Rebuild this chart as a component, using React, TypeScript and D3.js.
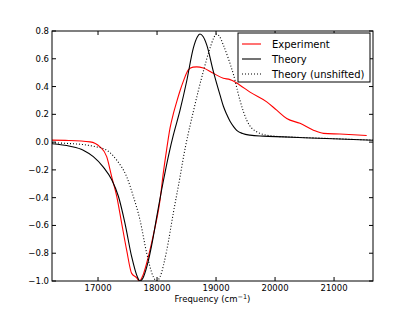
import * as d3 from 'd3'

// Experiment (red)
const expFreq = [16220, 16500, 16864, 17033, 17147, 17232, 17317, 17401, 17486, 17570, 17655, 17700, 17760, 17825, 17937, 18050, 18107, 18164, 18220, 18280, 18333, 18390, 18445, 18530, 18610, 18672, 18785, 18954, 19123, 19237, 19293, 19406, 19576, 19859, 20028, 20198, 20423, 20650, 20820, 21100, 21553]
const expVal = [0.014, 0.012, 0.002, -0.034, -0.105, -0.25, -0.39, -0.585, -0.78, -0.945, -0.977, -1.0, -0.96, -0.87, -0.67, -0.42, -0.22, -0.05, 0.1, 0.21, 0.29, 0.37, 0.437, 0.52, 0.54, 0.542, 0.533, 0.495, 0.46, 0.45, 0.44, 0.41, 0.36, 0.29, 0.23, 0.17, 0.135, 0.086, 0.063, 0.058, 0.048]

// Theory (black, solid)
const theoryFreq = [16220, 16525, 16750, 16920, 17090, 17230, 17345, 17457, 17570, 17666, 17711, 17760, 17825, 17937, 17994, 18107, 18209, 18276, 18390, 18503, 18615, 18680, 18728, 18780, 18842, 18954, 19067, 19123, 19180, 19237, 19300, 19350, 19450, 19576, 19800, 20140, 20600, 20983, 21660]
const theoryVal = [-0.012, -0.03, -0.058, -0.105, -0.18, -0.27, -0.39, -0.585, -0.825, -0.97, -1.0, -0.98, -0.9, -0.68, -0.54, -0.28, -0.07, 0.05, 0.23, 0.44, 0.677, 0.755, 0.778, 0.76, 0.7, 0.51, 0.34, 0.26, 0.2, 0.15, 0.11, 0.085, 0.062, 0.05, 0.043, 0.038, 0.03, 0.024, 0.013]

// Theory (unshifted, dotted)
const unshFreq = [16220, 16500, 16750, 16950, 17147, 17317, 17486, 17598, 17711, 17825, 17937, 17994, 18050, 18164, 18276, 18390, 18445, 18615, 18785, 18898, 18960, 19005, 19060, 19123, 19210, 19293, 19406, 19520, 19690, 19970, 20300, 20800, 21300, 21660]
const unshVal = [-0.005, -0.01, -0.018, -0.032, -0.058, -0.13, -0.25, -0.39, -0.56, -0.8, -0.97, -1.0, -0.97, -0.78, -0.51, -0.25, -0.115, 0.22, 0.51, 0.677, 0.75, 0.778, 0.76, 0.7, 0.6, 0.49, 0.3, 0.158, 0.074, 0.043, 0.036, 0.028, 0.02, 0.015]

const xTicks = [17000, 18000, 19000, 20000, 21000]
const yTicks = [-1.0, -0.8, -0.6, -0.4, -0.2, 0.0, 0.2, 0.4, 0.6, 0.8]

const legendItems = [
  { label: 'Experiment', color: '#ff0000', dash: '' },
  { label: 'Theory', color: '#000000', dash: '' },
  { label: 'Theory (unshifted)', color: '#000000', dash: '1,2' },
]

const W = 415
const H = 313
const margin = { top: 31, right: 42, bottom: 32, left: 52 }

export default function App() {
  const innerW = W - margin.left - margin.right
  const innerH = H - margin.top - margin.bottom
  const x = d3.scaleLinear().domain([16220, 21660]).range([0, innerW])
  const y = d3.scaleLinear().domain([-1, 0.8]).range([innerH, 0])

  const mkLine = (fs: number[], vs: number[]) =>
    d3.line<number>()
      .x((_, i) => x(fs[i]))
      .y((_, i) => y(vs[i]))
      .curve(d3.curveMonotoneX)(vs.map((_, i) => i)) ?? ''

  const font = 'DejaVu Sans, sans-serif'
  const tickLen = 4

  return (
    <div style={{ position: 'fixed', top: 0, left: 0 }}>
      <svg width={W} height={H} style={{ display: 'block', background: '#fff' }}>
        <g transform={`translate(${margin.left},${margin.top})`}>
          <defs>
            <clipPath id="plotClip">
              <rect x={0} y={0} width={innerW} height={innerH} />
            </clipPath>
          </defs>
          <g clipPath="url(#plotClip)" fill="none" strokeWidth={1.1}>
            <path d={mkLine(expFreq, expVal)} stroke="#ff0000" />
            <path d={mkLine(theoryFreq, theoryVal)} stroke="#000" />
            <path d={mkLine(unshFreq, unshVal)} stroke="#000" strokeDasharray="1,2" />
          </g>

          {/* frame */}
          <rect x={0} y={0} width={innerW} height={innerH} fill="none" stroke="#000" strokeWidth={1} />

          {/* x ticks */}
          {xTicks.map((t) => (
            <g key={t} transform={`translate(${x(t)},0)`}>
              <line y1={innerH} y2={innerH - tickLen} stroke="#000" />
              <line y1={0} y2={tickLen} stroke="#000" />
              <text y={innerH + 10} textAnchor="middle" fontSize={8.5} fontFamily={font} fill="#000">{t}</text>
            </g>
          ))}

          {/* y ticks */}
          {yTicks.map((t) => (
            <g key={t} transform={`translate(0,${y(t)})`}>
              <line x1={0} x2={tickLen} stroke="#000" />
              <line x1={innerW} x2={innerW - tickLen} stroke="#000" />
              <text x={-3} dy="0.35em" textAnchor="end" fontSize={8.5} fontFamily={font} fill="#000">
                {t < 0 ? '\u2212' + Math.abs(t).toFixed(1) : t.toFixed(1)}
              </text>
            </g>
          ))}

          <text x={innerW / 2} y={innerH + 21} textAnchor="middle" fontSize={8.5} fontFamily={font} fill="#000">
            Frequency (cm<tspan dy={-3.5} fontSize={6.5}>{'\u22121'}</tspan><tspan dy={3.5}>)</tspan>
          </text>

          {/* legend */}
          <g transform={`translate(${186},${2})`}>
            <rect x={0} y={0} width={132} height={49} fill="#fff" stroke="#000" strokeWidth={1} />
            {legendItems.map((d, i) => (
              <g key={d.label} transform={`translate(0,${11 + i * 15})`}>
                <line x1={4} x2={23} stroke={d.color} strokeWidth={1.1} strokeDasharray={d.dash} />
                <text x={34} dy="0.35em" fontSize={10} fontFamily={font} fill="#000">{d.label}</text>
              </g>
            ))}
          </g>
        </g>
      </svg>
    </div>
  )
}
